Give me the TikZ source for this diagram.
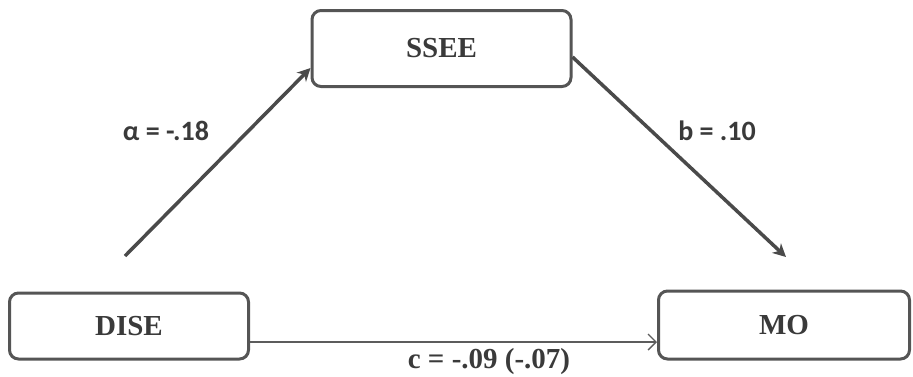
\documentclass[tikz,border=0pt]{standalone}
\usepackage{fontspec}
\setmainfont{Liberation Serif}
\newfontfamily\labfont{Carlito}
\usetikzlibrary{arrows.meta}
\definecolor{boxline}{HTML}{555555}
\definecolor{arrline}{HTML}{4A4A4A}
\definecolor{txt}{HTML}{3A3A3A}
\begin{document}
\begin{tikzpicture}[x=1pt,y=-1pt,
  varbox/.style={draw=boxline, line width=3pt, rounded corners=9pt, fill=white,
    font=\fontsize{29}{34}\selectfont\bfseries, text=txt, inner sep=0pt},
  patharr/.style={draw=arrline, line width=3.5pt, -{Stealth[length=13pt,width=13pt,inset=4pt]}},
  directarr/.style={draw=arrline!90, line width=1.4pt, -{Straight Barb[length=8pt,width=16pt]}},
  coef/.style={font=\labfont\fontsize{28}{32}\selectfont\bfseries, text=txt},
  coefserif/.style={font=\fontsize{29}{34}\selectfont\bfseries, text=txt, inner sep=0pt}
]
\useasboundingbox (0,0) rectangle (913,376);
\node[varbox, minimum width=259pt, minimum height=76pt] (ssee) at (441.5,48.5) {SSEE};
\node[varbox, minimum width=239pt, minimum height=66pt] (dise) at (129,326) {DISE};
\node[varbox, minimum width=251pt, minimum height=68pt] (mo) at (784,325) {MO};
\coordinate (astart) at (125,256);
\coordinate (bend) at (786,257);
\draw[patharr] (astart) -- (ssee.south west |- 0,68) ;
\draw[patharr] (ssee.east |- 0,57) -- (bend);
\draw[directarr] (dise.east |- 0,342) -- (mo.west |- 0,342);
\node[coef] (alab) at (166,131) {α = -.18};
\node[coef] (blab) at (717,131) {b = .10};
\node[coefserif, anchor=base] (clab) at (489,368) {c = -.09 (-.07)};
\end{tikzpicture}
\end{document}
